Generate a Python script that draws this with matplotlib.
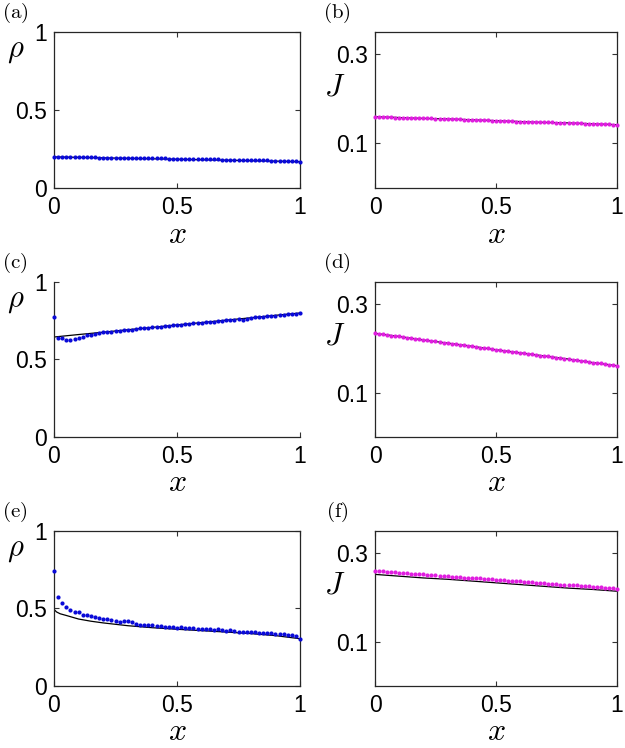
import numpy as np
from matplotlib import pyplot as plt

plt.rcParams['font.family'] = ['Liberation Sans', 'DejaVu Sans']
plt.rcParams['mathtext.fontset'] = 'cm'

# Datos: malla de x para los puntos y para las curvas teoricas
x_pts = np.linspace(0, 1, 61)
x_lin = [0.0, 0.1, 0.2, 0.3, 0.4, 0.5, 0.6, 0.7, 0.8, 0.9, 1.0]
x_lin_e = [0.0, 0.01, 0.025, 0.05, 0.1, 0.15, 0.2, 0.3, 0.4, 0.5, 0.6, 0.7, 0.8, 0.9, 1.0]

# (a) densidad
rho_a = [0.199, 0.199, 0.198, 0.198, 0.198, 0.197, 0.197, 0.197, 0.196, 0.196,
         0.196, 0.195, 0.195, 0.195, 0.194, 0.194, 0.194, 0.195, 0.193, 0.192,
         0.192, 0.191, 0.191, 0.190, 0.190, 0.189, 0.189, 0.189, 0.188, 0.188,
         0.187, 0.188, 0.187, 0.186, 0.185, 0.185, 0.184, 0.184, 0.184, 0.183,
         0.183, 0.182, 0.182, 0.181, 0.181, 0.181, 0.180, 0.180, 0.179, 0.179,
         0.178, 0.177, 0.177, 0.176, 0.176, 0.175, 0.174, 0.173, 0.172, 0.170, 0.167]
rho_a_teo = [0.199, 0.196, 0.193, 0.190, 0.187, 0.184, 0.181, 0.178, 0.175, 0.172, 0.168]

# (b) corriente
J_b = [0.160, 0.160, 0.159, 0.159, 0.159, 0.158, 0.158, 0.158, 0.158, 0.157,
       0.157, 0.157, 0.156, 0.156, 0.156, 0.155, 0.155, 0.155, 0.155, 0.154,
       0.154, 0.154, 0.153, 0.153, 0.153, 0.152, 0.152, 0.152, 0.152, 0.151,
       0.151, 0.151, 0.150, 0.150, 0.150, 0.149, 0.149, 0.149, 0.149, 0.148,
       0.148, 0.148, 0.147, 0.147, 0.147, 0.146, 0.146, 0.146, 0.146, 0.145,
       0.145, 0.145, 0.144, 0.144, 0.144, 0.143, 0.143, 0.143, 0.143, 0.142, 0.142]
J_b_teo = [0.160, 0.158, 0.156, 0.155, 0.153, 0.151, 0.149, 0.147, 0.146, 0.144, 0.142]

# (c) densidad
rho_c = [0.772, 0.641, 0.638, 0.624, 0.628, 0.633, 0.640, 0.648, 0.655, 0.661,
         0.667, 0.672, 0.675, 0.678, 0.680, 0.683, 0.687, 0.692, 0.690, 0.693,
         0.697, 0.700, 0.702, 0.705, 0.707, 0.710, 0.712, 0.715, 0.717, 0.720,
         0.722, 0.723, 0.728, 0.731, 0.733, 0.736, 0.738, 0.740, 0.744, 0.745,
         0.748, 0.750, 0.752, 0.756, 0.758, 0.762, 0.758, 0.763, 0.769, 0.772,
         0.773, 0.776, 0.778, 0.781, 0.783, 0.786, 0.788, 0.791, 0.793, 0.796, 0.800]
rho_c_teo = [0.645, 0.661, 0.676, 0.692, 0.707, 0.723, 0.738, 0.754, 0.769, 0.785, 0.800]

# (d) corriente
J_d = [0.234, 0.233, 0.232, 0.230, 0.229, 0.228, 0.227, 0.225, 0.224, 0.223,
       0.222, 0.221, 0.219, 0.218, 0.217, 0.216, 0.215, 0.213, 0.212, 0.211,
       0.210, 0.208, 0.207, 0.206, 0.205, 0.204, 0.202, 0.201, 0.200, 0.199,
       0.197, 0.196, 0.195, 0.194, 0.193, 0.191, 0.190, 0.189, 0.188, 0.187,
       0.185, 0.184, 0.183, 0.182, 0.180, 0.179, 0.178, 0.177, 0.176, 0.174,
       0.173, 0.172, 0.171, 0.170, 0.168, 0.167, 0.166, 0.165, 0.163, 0.162, 0.161]
J_d_teo = [0.234, 0.227, 0.219, 0.212, 0.205, 0.197, 0.190, 0.183, 0.176, 0.168, 0.161]

# (e) densidad
rho_e = [0.742, 0.575, 0.537, 0.510, 0.490, 0.477, 0.476, 0.460, 0.455, 0.449,
         0.445, 0.441, 0.435, 0.431, 0.427, 0.422, 0.416, 0.418, 0.420, 0.410,
         0.402, 0.392, 0.391, 0.393, 0.392, 0.388, 0.385, 0.383, 0.381, 0.380,
         0.377, 0.378, 0.374, 0.373, 0.371, 0.370, 0.369, 0.366, 0.365, 0.363,
         0.368, 0.360, 0.358, 0.361, 0.352, 0.350, 0.351, 0.347, 0.348, 0.346,
         0.344, 0.345, 0.341, 0.340, 0.338, 0.335, 0.334, 0.331, 0.332, 0.325, 0.302]
rho_e_teo = [0.495, 0.478, 0.466, 0.455, 0.432, 0.418, 0.407, 0.389, 0.376, 0.366,
             0.357, 0.348, 0.338, 0.325, 0.305]

# (f) corriente
J_f = [0.260, 0.259, 0.259, 0.258, 0.257, 0.257, 0.256, 0.255, 0.255, 0.254,
       0.253, 0.253, 0.252, 0.251, 0.251, 0.250, 0.249, 0.249, 0.248, 0.247,
       0.247, 0.246, 0.245, 0.245, 0.244, 0.243, 0.243, 0.242, 0.241, 0.241,
       0.240, 0.239, 0.239, 0.238, 0.237, 0.237, 0.236, 0.235, 0.235, 0.234,
       0.233, 0.233, 0.232, 0.231, 0.231, 0.230, 0.229, 0.229, 0.228, 0.227,
       0.227, 0.226, 0.225, 0.225, 0.224, 0.223, 0.223, 0.222, 0.221, 0.221, 0.220]
J_f_teo = [0.252, 0.248, 0.244, 0.241, 0.237, 0.233, 0.229, 0.225, 0.221, 0.218, 0.214]

azul = '#0a0ad8'
magenta = '#e01ee0'

fig = plt.figure(figsize=(6.25, 7.48), dpi=100)

# posiciones de los ejes (fraccion de figura)
col_x = [0.0864, 0.600]
col_w = [0.3936, 0.387]
fila_y = [0.7487, 0.4158, 0.0829]
fila_h = [0.2086, 0.2072, 0.2072]


def preparar_eje(ax, tipo, caja=True):
    ax.set_xlim(0, 1)
    ax.set_xticks([0, 0.5, 1])
    ax.set_xticklabels(['0', '0.5', '1'])
    if tipo == 'rho':
        ax.set_ylim(0, 1)
        ax.set_yticks([0, 0.5, 1])
        ax.set_yticklabels(['0', '0.5', '1'])
        ax.text(-0.155, 0.885, r'$\rho$', transform=ax.transAxes, fontsize=22,
                ha='center', va='center')
    else:
        ax.set_ylim(0, 0.35)
        ax.set_yticks([0.1, 0.3])
        ax.set_yticklabels(['0.1', '0.3'])
        ax.text(-0.165, 0.647, r'$J$', transform=ax.transAxes, fontsize=22,
                ha='center', va='center')
    ax.text(0.5, -0.30, r'$x$', transform=ax.transAxes, fontsize=23,
            ha='center', va='center')
    ax.tick_params(direction='in', length=3.5, width=0.8, labelsize=16.5,
                   top=caja, right=caja, color='0.2')
    ax.tick_params(axis='x', pad=6)
    ax.tick_params(axis='y', pad=5)
    for lado, sp in ax.spines.items():
        sp.set_color('0.15')
        sp.set_linewidth(0.9)
    if not caja:
        ax.spines['top'].set_visible(False)
        ax.spines['right'].set_visible(False)


paneles = [
    ('(a)', 0, 0, 'rho', x_lin, rho_a_teo, rho_a, azul, True),
    ('(b)', 0, 1, 'J', x_lin, J_b_teo, J_b, magenta, True),
    ('(c)', 1, 0, 'rho', x_lin, rho_c_teo, rho_c, azul, False),
    ('(d)', 1, 1, 'J', x_lin, J_d_teo, J_d, magenta, True),
    ('(e)', 2, 0, 'rho', x_lin_e, rho_e_teo, rho_e, azul, True),
    ('(f)', 2, 1, 'J', x_lin, J_f_teo, J_f, magenta, True),
]

for etiqueta, fila, col, tipo, xt, yt, ypts, color, caja in paneles:
    ax = fig.add_axes([col_x[col], fila_y[fila], col_w[col], fila_h[fila]])
    ax.plot(xt, yt, color='black', linewidth=0.9, zorder=2)
    ax.plot(x_pts, ypts, linestyle='none', marker='o', markersize=3.0,
            markeredgewidth=0, color=color, zorder=3, clip_on=False)
    preparar_eje(ax, tipo, caja)
    ax.text(-0.158, 1.12, r'$\mathrm{' + etiqueta + '}$', transform=ax.transAxes,
            fontsize=15, ha='center', va='center')

fig.savefig('out.png', dpi=100)
